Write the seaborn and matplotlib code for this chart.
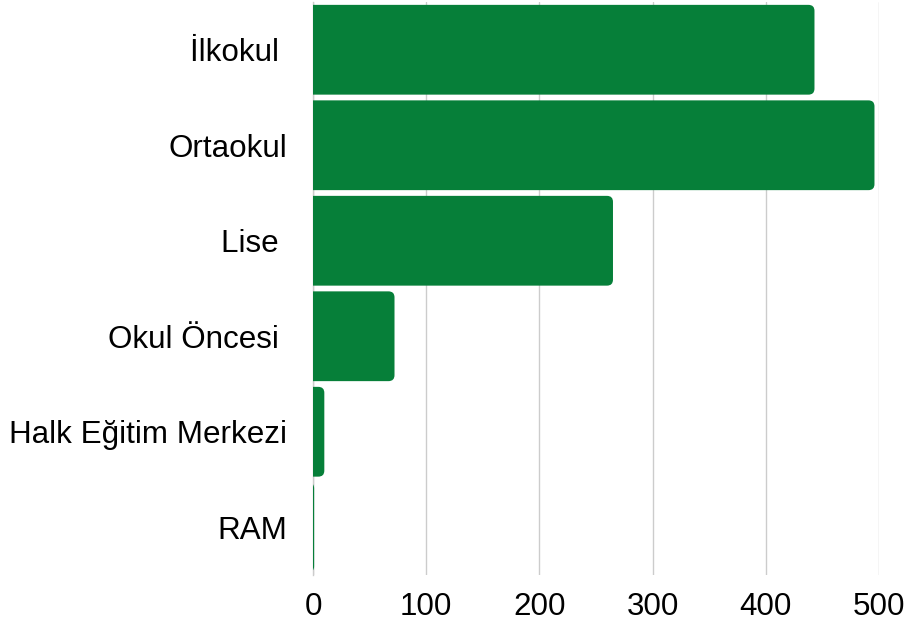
import numpy as np
import pandas as pd
import seaborn as sns
import matplotlib.pyplot as plt
from matplotlib.patches import FancyBboxPatch

categories = ["İlkokul ", "Ortaokul", "Lise ", "Okul Öncesi ", "Halk Eğitim Merkezi", "RAM"]
values = [443, 496, 265, 72, 10, 1]
xticks = [0, 100, 200, 300, 400, 500]

bar_color = "#067f39"
grid_color = "#cccccc"

sns.set_theme(style="white")
plt.rcParams['font.family'] = ['Liberation Sans', 'DejaVu Sans']

df = pd.DataFrame({"category": categories, "value": values})

fig = plt.figure(figsize=(9.08, 6.28), dpi=100)
ax = fig.add_axes([313 / 908, 1 - 575 / 628, (879 - 313) / 908, (575 - 2) / 628])

sns.barplot(data=df, x="value", y="category", color=bar_color, width=0.94,
            saturation=1, ax=ax, zorder=3)

# swap the plain rectangles for rounded ones
px_x = 500 / (879 - 313)
px_y = 6 / (575 - 2)
radius = 6 * px_x
for p in list(ax.patches):
    x0, y0 = p.get_x(), p.get_y()
    w, h = p.get_width(), p.get_height()
    p.remove()
    start = x0 - 3 * radius
    rb = FancyBboxPatch((start, y0), w + 3 * radius, h,
                        boxstyle=f"round,pad=0,rounding_size={radius}",
                        mutation_aspect=px_y / px_x,
                        facecolor=bar_color, edgecolor="none", zorder=3)
    ax.add_patch(rb)

ax.set_xlim(0, 500)
ax.set_ylim(5.5, -0.5)
ax.set_xticks(xticks)
ax.set_xticklabels([str(t) for t in xticks])
ax.xaxis.grid(True, color=grid_color, linewidth=1, zorder=0)
ax.set_axisbelow(True)
ax.set_xlabel("")
ax.set_ylabel("")
for s in ["top", "right", "bottom"]:
    ax.spines[s].set_visible(False)
ax.spines["left"].set_color(grid_color)
ax.spines["left"].set_linewidth(1)
ax.tick_params(axis="y", length=0, pad=18.5, labelsize=22.6, labelcolor="black")
ax.tick_params(axis="x", length=0, pad=12, labelsize=22.6, labelcolor="black")

fig.savefig("out.png", dpi=100)
